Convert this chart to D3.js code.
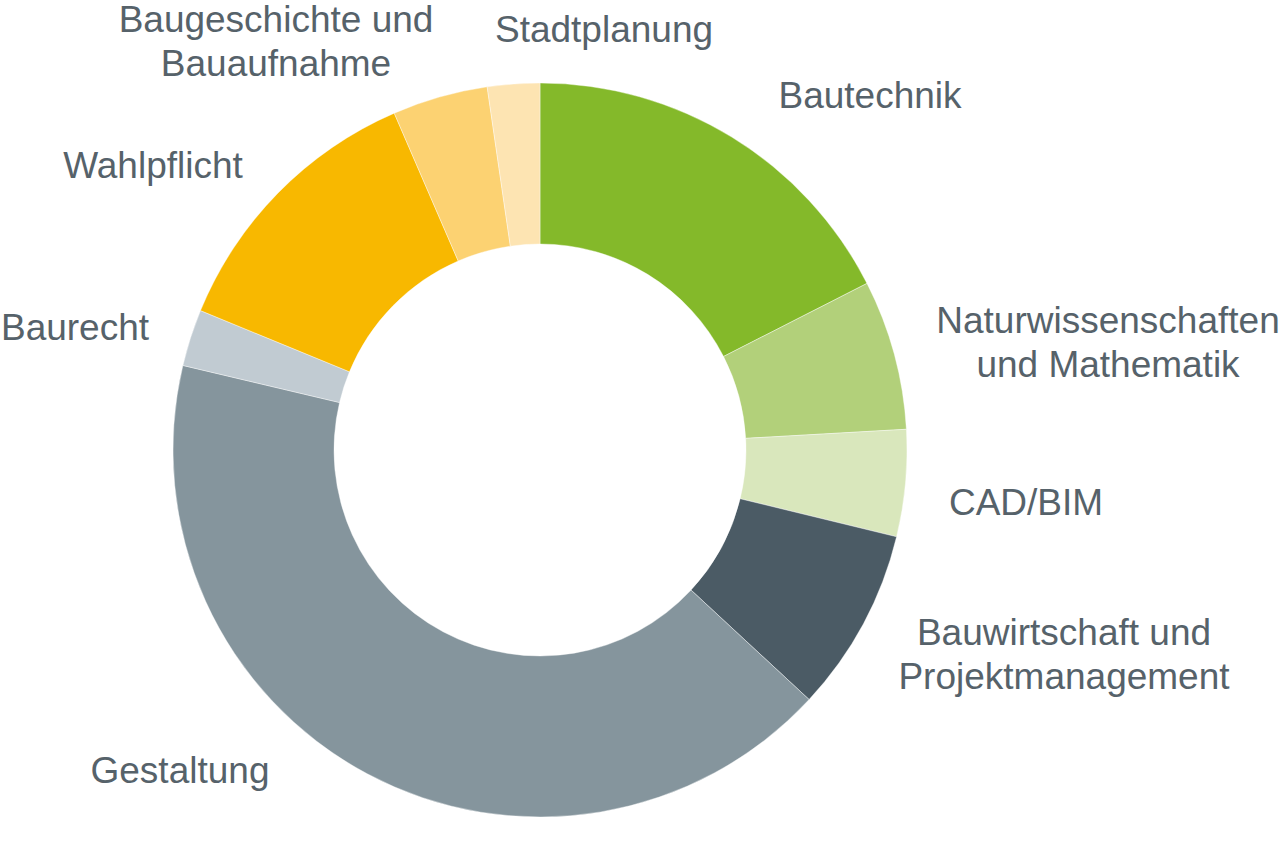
<!DOCTYPE html>
<html><head><meta charset="utf-8">
<script src="https://cdn.jsdelivr.net/npm/d3@7/dist/d3.min.js"></script>
<style>html,body{margin:0;padding:0;background:#fff;}svg{display:block;}</style>
</head><body>
<svg id="chart" width="1280" height="861"></svg>
<script>
const categories = ["Bautechnik","Naturwissenschaften und Mathematik","CAD/BIM","Bauwirtschaft und Projektmanagement","Gestaltung","Baurecht","Wahlpflicht","Baugeschichte und Bauaufnahme","Stadtplanung"];
const values = [17.5, 6.6, 4.7, 8.1, 41.8, 2.5, 12.3, 4.2, 2.3];
const colors = ["#84b92a","#b2d07a","#d9e7bc","#4b5b65","#85959d","#c1cbd2","#f8b800","#fcd272","#fde4b2"];
const labelLines = [["Bautechnik"],["Naturwissenschaften","und Mathematik"],["CAD/BIM"],["Bauwirtschaft und","Projektmanagement"],["Gestaltung"],["Baurecht"],["Wahlpflicht"],["Baugeschichte und","Bauaufnahme"],["Stadtplanung"]];
const labelPos = [[870,95],[1108,342],[1026,502],[1064,654],[180,770],[75,327],[153,165],[276,41],[604,29]];

const svg = d3.select("#chart");
const cx = 540, cy = 450, R = 367, r = 206;
const g = svg.append("g").attr("transform", `translate(${cx},${cy})`);
const pie = d3.pie().sort(null).value(d => d)(values);
const arc = d3.arc().innerRadius(r).outerRadius(R);
g.selectAll("path").data(pie).join("path")
  .attr("d", arc).attr("fill", (d,i) => colors[i])
  .attr("stroke", "#fff").attr("stroke-width", 0.4);

const fs = 37, lh = 44;
const lab = svg.append("g").attr("font-family", "Arial, 'Liberation Sans', sans-serif")
  .attr("font-size", fs).attr("fill", "#56626a").attr("text-anchor", "middle");
labelLines.forEach((lines, i) => {
  const n = lines.length;
  lines.forEach((s, j) => {
    lab.append("text").attr("x", labelPos[i][0])
      .attr("y", labelPos[i][1] + (j - (n-1)/2) * lh)
      .attr("dy", "0.35em").text(s);
  });
});
</script>
</body></html>
